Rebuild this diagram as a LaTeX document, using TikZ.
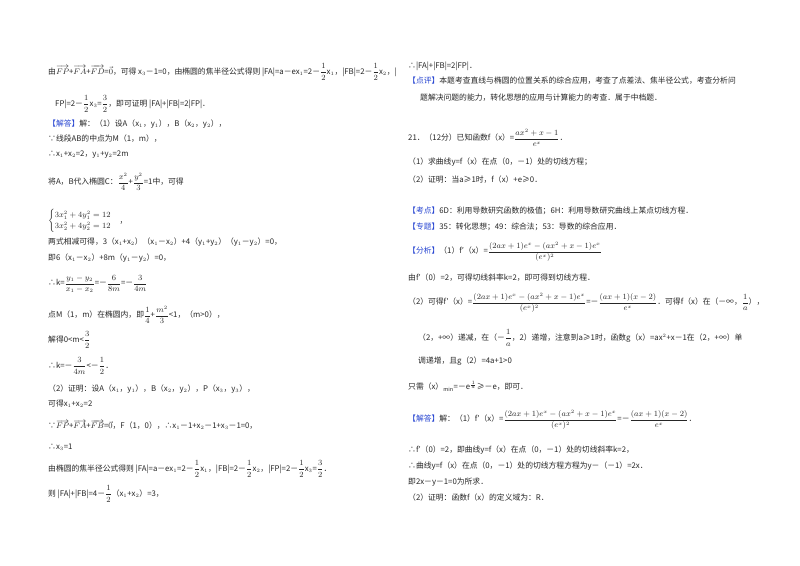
\documentclass[tikz,border=0pt]{standalone}
\usepackage{fontspec}
\usepackage{amsmath,amssymb}
\setmainfont{Noto Sans CJK SC}
\definecolor{hd}{RGB}{40,70,210}
\newcommand{\hdr}[1]{\textcolor{hd}{【#1】}}
\everymath{\displaystyle}
\begin{document}
\begin{tikzpicture}[x=1pt,y=-1pt,
  ln/.style={anchor=west,inner sep=0pt,font=\fontsize{7.8}{9}\selectfont,text=black!85}]
\useasboundingbox[fill=white] (0,0) rectangle (800,565);
% left column
\node[ln] (l1) at (48,72) {由$\overrightarrow{FP}$+$\overrightarrow{FA}$+$\overrightarrow{FD}$=$\vec0$，可得 x$_3$－1=0，由椭圆的焦半径公式得则 |FA|=a－ex$_1$=2－$\frac12$x$_1$，|FB|=2－$\frac12$x$_2$，|};
\node[ln] (l2) at (55,104) {FP|=2－$\frac12$x$_3$=$\frac32$，即可证明 |FA|+|FB|=2|FP|．};
\node[ln] (l3) at (48,124) {\hdr{解答}解：（1）设A（x$_1$，y$_1$），B（x$_2$，y$_2$），};
\node[ln] (l4) at (48,139) {∵线段AB的中点为M（1，m），};
\node[ln] (l5) at (48,155) {∴x$_1$+x$_2$=2，y$_1$+y$_2$=2m};
\node[ln] (l6) at (48,182) {将A，B代入椭圆C：$\frac{x^2}{4}$+$\frac{y^2}{3}$=1中，可得};
\node[ln] (l7) at (48,221) {$\begin{cases}3x_1^2+4y_1^2=12\\3x_2^2+4y_2^2=12\end{cases}$，};
\node[ln] (l8) at (48,242) {两式相减可得，3（x$_1$+x$_2$）（x$_1$－x$_2$）+4（y$_1$+y$_2$）（y$_1$－y$_2$）=0，};
\node[ln] (l9) at (48,258) {即6（x$_1$－x$_2$）+8m（y$_1$－y$_2$）=0，};
\node[ln] (l10) at (48,284) {∴k=$\frac{y_1-y_2}{x_1-x_2}$=－$\frac{6}{8m}$=－$\frac{3}{4m}$};
\node[ln] (l11) at (48,315) {点M（1，m）在椭圆内，即$\frac14$+$\frac{m^2}{3}$<1，（m>0），};
\node[ln] (l12) at (48,340) {解得0<m<$\frac32$};
\node[ln] (l13) at (48,366) {∴k=－$\frac{3}{4m}$<－$\frac12$．};
\node[ln] (l14) at (48,389) {（2）证明：设A（x$_1$，y$_1$），B（x$_2$，y$_2$），P（x$_3$，y$_3$），};
\node[ln] (l15) at (48,404) {可得x$_1$+x$_2$=2};
\node[ln] (l16) at (48,425) {∵$\overrightarrow{FP}$+$\overrightarrow{FA}$+$\overrightarrow{FB}$=$\vec0$，F（1，0），∴x$_1$－1+x$_2$－1+x$_3$－1=0，};
\node[ln] (l17) at (48,447) {∴x$_3$=1};
\node[ln] (l18) at (48,469) {由椭圆的焦半径公式得则 |FA|=a－ex$_1$=2－$\frac12$x$_1$，|FB|=2－$\frac12$x$_2$，|FP|=2－$\frac12$x$_3$=$\frac32$．};
\node[ln] (l19) at (48,494) {则 |FA|+|FB|=4－$\frac12$（x$_1$+x$_2$）=3，};
% right column
\node[ln] (r1) at (408,66) {∴|FA|+|FB|=2|FP|．};
\node[ln] (r2) at (408,81) {\hdr{点评}本题考查直线与椭圆的位置关系的综合应用，考查了点差法、焦半径公式，考查分析问};
\node[ln] (r3) at (420,98) {题解决问题的能力，转化思想的应用与计算能力的考查．属于中档题．};
\node[ln] (r4) at (408,138) {21．（12分）已知函数f（x）=$\frac{ax^2+x-1}{e^x}$．};
\node[ln] (r5) at (408,162) {（1）求曲线y=f（x）在点（0，－1）处的切线方程；};
\node[ln] (r6) at (408,180) {（2）证明：当a≥1时，f（x）+e≥0．};
\node[ln] (r7) at (408,211) {\hdr{考点}6D：利用导数研究函数的极值；6H：利用导数研究曲线上某点切线方程．};
\node[ln] (r8) at (408,227) {\hdr{专题}35：转化思想；49：综合法；53：导数的综合应用．};
\node[ln] (r9) at (408,252) {\hdr{分析}（1）f′（x）=$\frac{(2ax+1)e^x-(ax^2+x-1)e^x}{(e^x)^2}$};
\node[ln] (r10) at (408,278) {由f′（0）=2，可得切线斜率k=2，即可得到切线方程．};
\node[ln] (r11) at (408,303) {（2）可得f′（x）=$\frac{(2ax+1)e^x-(ax^2+x-1)e^x}{(e^x)^2}$=－$\frac{(ax+1)(x-2)}{e^x}$．可得f（x）在（－∞，$\frac1a$），};
\node[ln] (r12) at (418,338) {（2，+∞）递减，在（－$\frac1a$，2）递增，注意到a≥1时，函数g（x）=ax$^2$+x－1在（2，+∞）单};
\node[ln] (r13) at (418,361) {调递增，且g（2）=4a+1>0};
\node[ln] (r14) at (408,386) {只需（x）$_{\min}$=－e$^{\frac1a}$≥－e，即可．};
\node[ln] (r15) at (408,420) {\hdr{解答}解：（1）f′（x）=$\frac{(2ax+1)e^x-(ax^2+x-1)e^x}{(e^x)^2}$=－$\frac{(ax+1)(x-2)}{e^x}$．};
\node[ln] (r16) at (408,450) {∴f′（0）=2，即曲线y=f（x）在点（0，－1）处的切线斜率k=2，};
\node[ln] (r17) at (408,466) {∴曲线y=f（x）在点（0，－1）处的切线方程方程为y－（－1）=2x．};
\node[ln] (r18) at (408,482) {即2x－y－1=0为所求．};
\node[ln] (r19) at (408,498) {（2）证明：函数f（x）的定义域为：R．};
\end{tikzpicture}
\end{document}
